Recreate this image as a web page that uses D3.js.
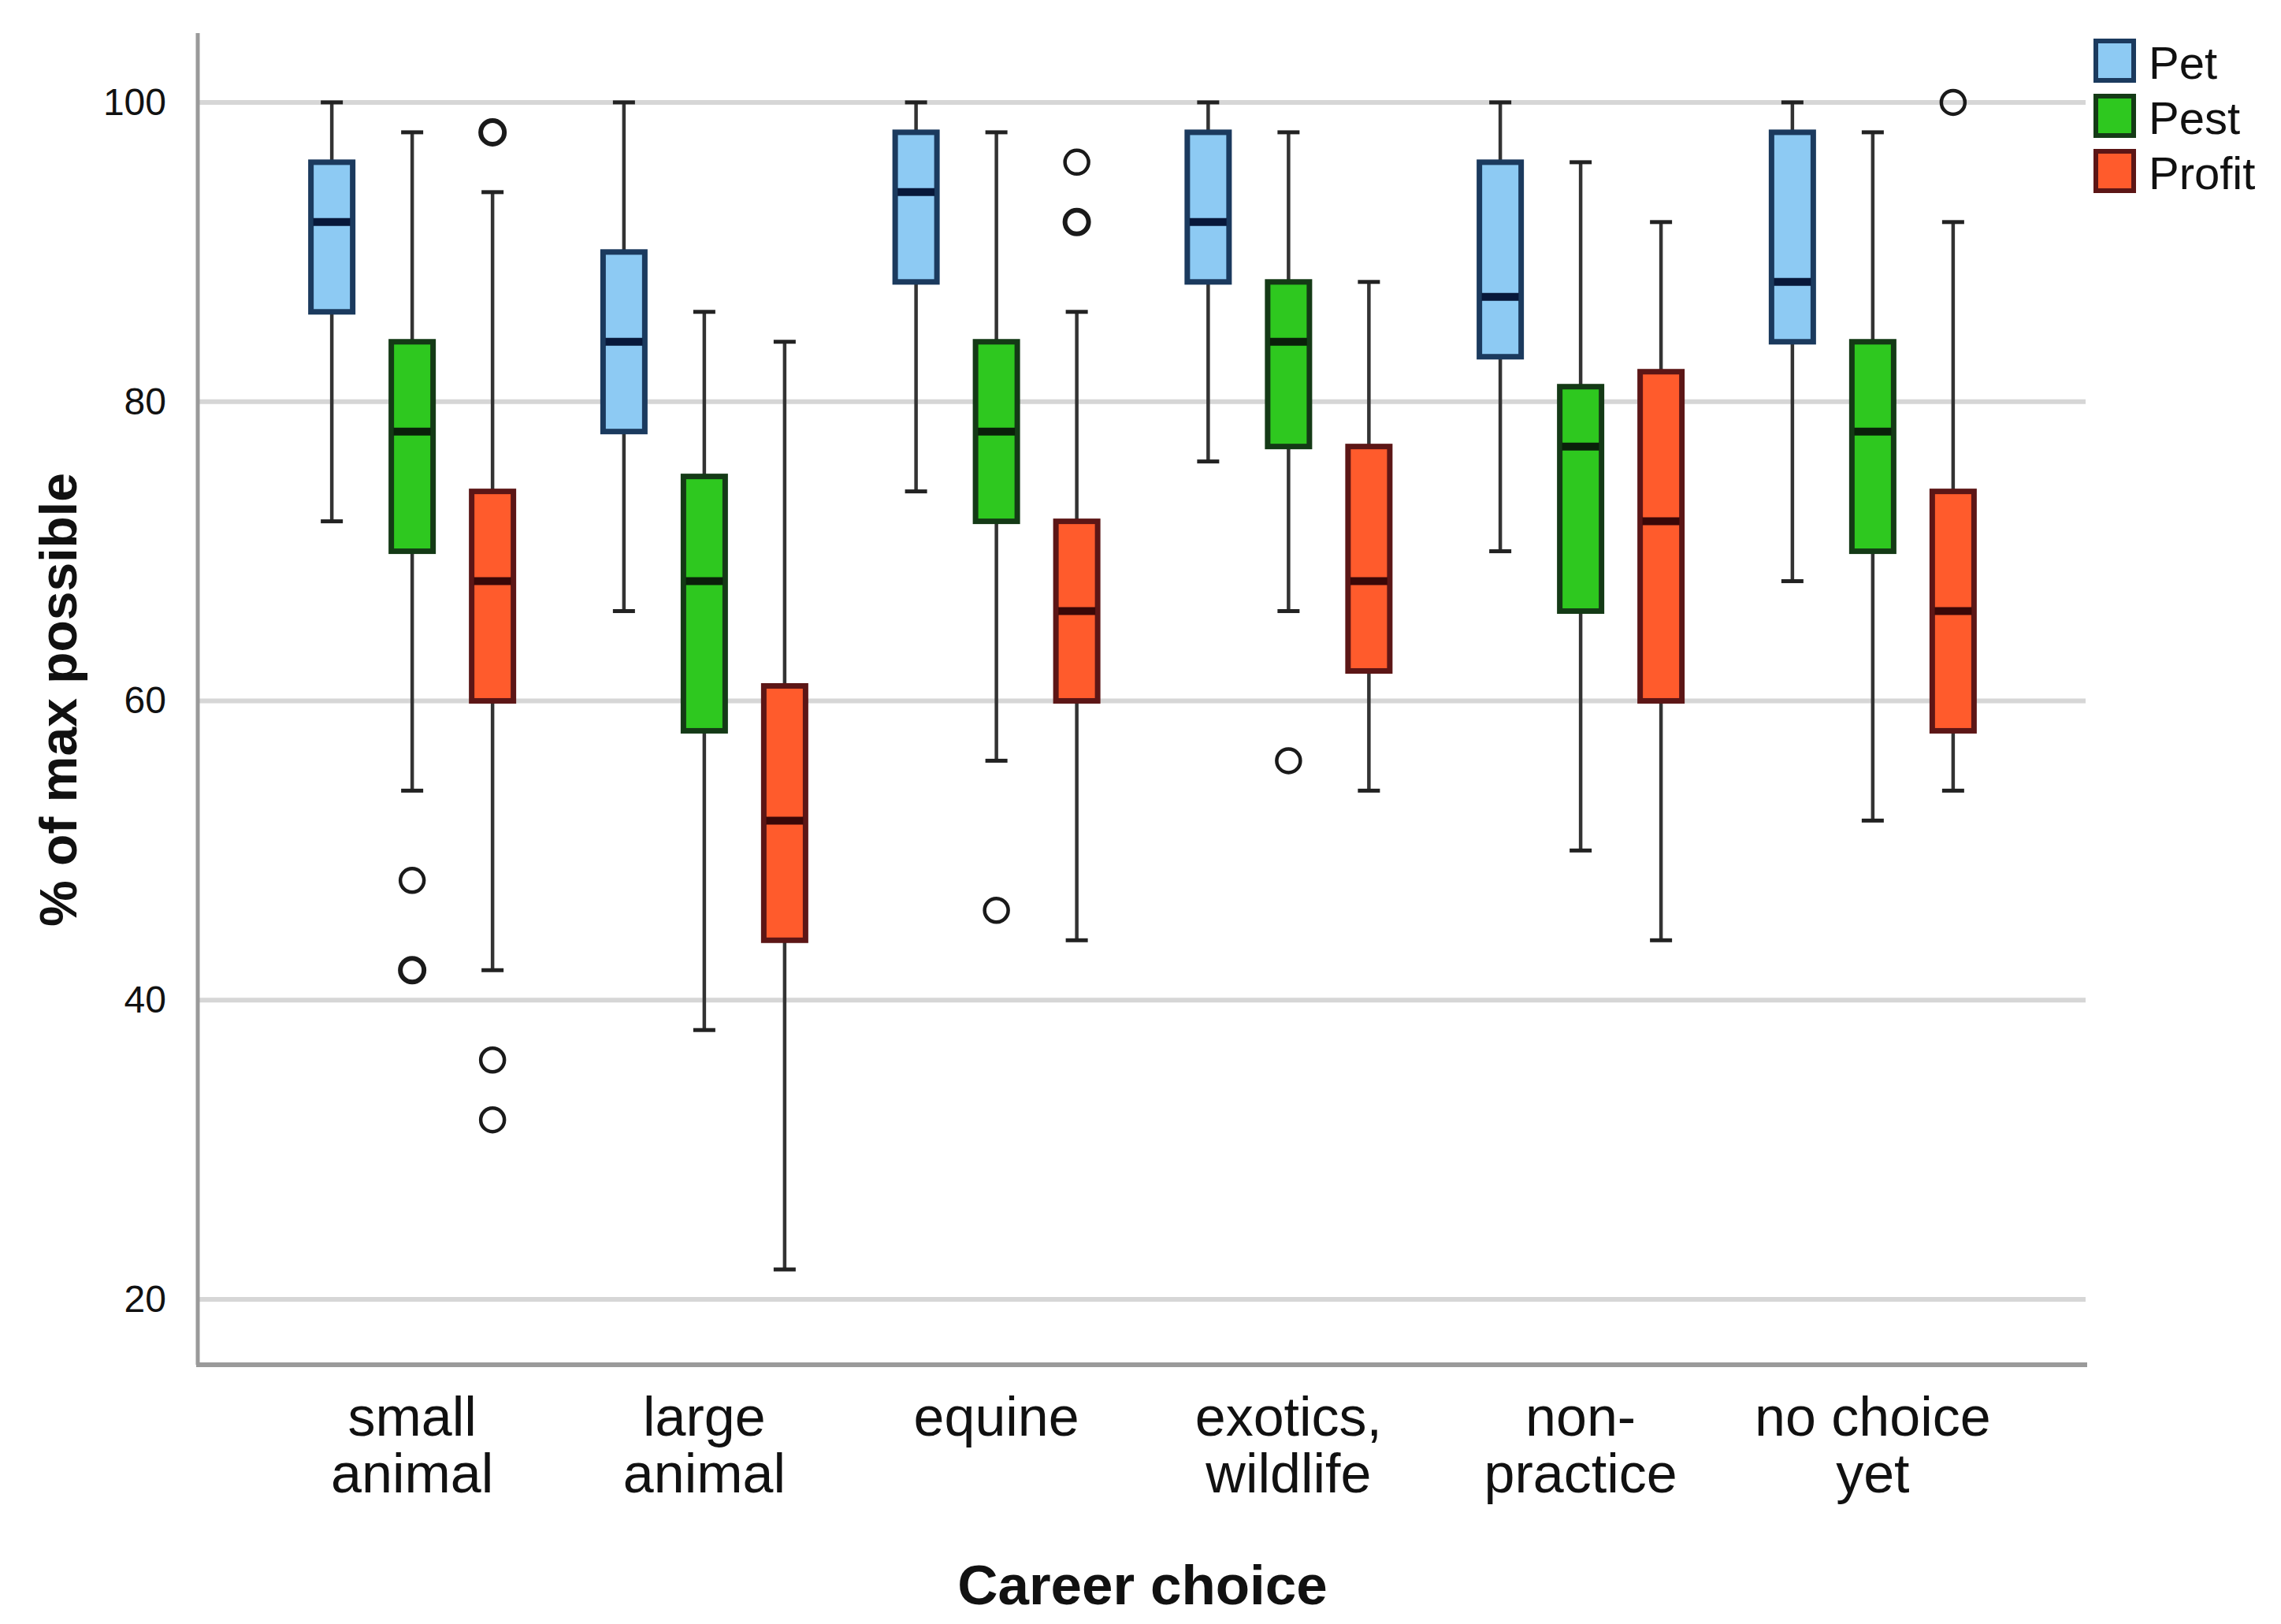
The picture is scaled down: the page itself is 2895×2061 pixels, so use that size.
<!DOCTYPE html>
<html>
<head>
<meta charset="utf-8">
<script src="https://cdn.jsdelivr.net/npm/d3@7"></script>
<style>
  body { margin: 0; background: #fff; }
  text { font-family: "Liberation Sans", Arial, sans-serif; fill: #111; }
</style>
</head>
<body>
<script>
// categories and series
var categories = ["small animal", "large animal", "equine", "exotics, wildlife", "non-practice", "no choice yet"];
var categoryLines = [["small", "animal"], ["large", "animal"], ["equine"], ["exotics,", "wildlife"], ["non-", "practice"], ["no choice", "yet"]];
var series = ["Pet", "Pest", "Profit"];

// [lower whisker, Q1, median, Q3, upper whisker] per category
var petStats = [[72, 86, 92, 96, 100], [66, 78, 84, 90, 100], [74, 88, 94, 98, 100], [76, 88, 92, 98, 100], [70, 83, 87, 96, 100], [68, 84, 88, 98, 100]];
var pestStats = [[54, 70, 78, 84, 98], [38, 58, 68, 75, 86], [56, 72, 78, 84, 98], [66, 77, 84, 88, 98], [50, 66, 77, 81, 96], [52, 70, 78, 84, 98]];
var profitStats = [[42, 60, 68, 74, 94], [22, 44, 52, 61, 84], [44, 60, 66, 72, 86], [54, 62, 68, 77, 88], [44, 60, 72, 82, 92], [54, 58, 66, 74, 92]];

// outliers per category (repeated values are drawn heavier)
var petOutliers = [[], [], [], [], [], []];
var pestOutliers = [[48, 42, 42], [], [46], [56], [], []];
var profitOutliers = [[98, 98, 36, 32], [], [96, 92, 92], [], [], [100]];

var yTicks = [20, 40, 60, 80, 100];

var fills = ["#8dcaf3", "#2ec81f", "#ff5b2c"];
var strokes = ["#1b3a5e", "#143a16", "#5c1616"];
var medianColors = ["#08183a", "#0a200a", "#3a0808"];

var width = 2895, height = 2061;
var plot = { left: 251, right: 2649, top: 42, bottom: 1732 };

var svg = d3.select("body").append("svg")
    .attr("width", width)
    .attr("height", height);

var x = d3.scalePoint()
    .domain(categories)
    .range([plot.left, plot.right])
    .padding(0.734);

var xSeries = d3.scaleBand()
    .domain(series)
    .range([-153, 153]);

var y = d3.scaleLinear()
    .domain([15.63, 104.63])
    .range([plot.bottom, plot.top]);

// gridlines
svg.append("g").selectAll("line")
    .data(yTicks)
    .enter().append("line")
    .attr("x1", plot.left)
    .attr("x2", plot.right - 2)
    .attr("y1", function(d) { return y(d); })
    .attr("y2", function(d) { return y(d); })
    .attr("stroke", "#d6d6d6")
    .attr("stroke-width", 6);

// y axis
var yAxis = svg.append("g")
    .attr("transform", "translate(" + plot.left + ",0)")
    .call(d3.axisLeft(y).tickValues(yTicks).tickSize(0).tickPadding(40));
yAxis.select(".domain").remove();
yAxis.selectAll("text")
    .attr("font-size", 48)
    .attr("font-family", "Liberation Sans, Arial, sans-serif")
    .attr("fill", "#222");

// axis lines
svg.append("line")
    .attr("x1", plot.left).attr("x2", plot.left)
    .attr("y1", plot.top).attr("y2", plot.bottom)
    .attr("stroke", "#9a9a9a").attr("stroke-width", 5);
svg.append("line")
    .attr("x1", plot.left - 2).attr("x2", plot.right)
    .attr("y1", plot.bottom).attr("y2", plot.bottom)
    .attr("stroke", "#9a9a9a").attr("stroke-width", 6);

var allStats = [petStats, pestStats, profitStats];
var allOutliers = [petOutliers, pestOutliers, profitOutliers];

var boxes = [];
series.forEach(function(s, si) {
    categories.forEach(function(c, ci) {
        var st = allStats[si][ci];
        boxes.push({
            series: s, si: si, category: c,
            low: st[0], q1: st[1], median: st[2], q3: st[3], high: st[4],
            outliers: allOutliers[si][ci]
        });
    });
});

var boxWidth = 53, capWidth = 28;

function cx(d) { return x(d.category) + xSeries(d.series) + xSeries.bandwidth() / 2; }

var g = svg.append("g").selectAll("g")
    .data(boxes)
    .enter().append("g");

// whiskers
g.append("line")
    .attr("x1", cx).attr("x2", cx)
    .attr("y1", function(d) { return y(d.high); })
    .attr("y2", function(d) { return y(d.q3); })
    .attr("stroke", "#333").attr("stroke-width", 4.5);
g.append("line")
    .attr("x1", cx).attr("x2", cx)
    .attr("y1", function(d) { return y(d.q1); })
    .attr("y2", function(d) { return y(d.low); })
    .attr("stroke", "#333").attr("stroke-width", 4.5);
g.selectAll(".cap")
    .data(function(d) { return [{ c: cx(d), v: d.high }, { c: cx(d), v: d.low }]; })
    .enter().append("line")
    .attr("class", "cap")
    .attr("x1", function(d) { return d.c - capWidth / 2; })
    .attr("x2", function(d) { return d.c + capWidth / 2; })
    .attr("y1", function(d) { return y(d.v); })
    .attr("y2", function(d) { return y(d.v); })
    .attr("stroke", "#222").attr("stroke-width", 5);

// boxes
g.append("rect")
    .attr("x", function(d) { return cx(d) - boxWidth / 2; })
    .attr("y", function(d) { return y(d.q3); })
    .attr("width", boxWidth)
    .attr("height", function(d) { return y(d.q1) - y(d.q3); })
    .attr("fill", function(d) { return fills[d.si]; })
    .attr("stroke", function(d) { return strokes[d.si]; })
    .attr("stroke-width", 7);

// medians
g.append("line")
    .attr("x1", function(d) { return cx(d) - boxWidth / 2 + 3; })
    .attr("x2", function(d) { return cx(d) + boxWidth / 2 - 3; })
    .attr("y1", function(d) { return y(d.median); })
    .attr("y2", function(d) { return y(d.median); })
    .attr("stroke", function(d) { return medianColors[d.si]; })
    .attr("stroke-width", 10);

// outliers
g.selectAll(".outlier")
    .data(function(d) {
        var counts = d3.rollups(d.outliers, function(v) { return v.length; }, function(v) { return v; });
        return counts.map(function(p) { return { c: cx(d), v: p[0], n: p[1] }; });
    })
    .enter().append("circle")
    .attr("class", "outlier")
    .attr("cx", function(d) { return d.c; })
    .attr("cy", function(d) { return y(d.v); })
    .attr("r", 15)
    .attr("fill", "none")
    .attr("stroke", "#1a1a1a")
    .attr("stroke-width", function(d) { return d.n > 1 ? 6 : 4.5; });

// category labels
var labels = svg.append("g").selectAll("text")
    .data(categories)
    .enter().append("text")
    .attr("text-anchor", "middle")
    .attr("font-size", 70)
    .attr("fill", "#111");
labels.selectAll("tspan")
    .data(function(d, i) { return categoryLines[i].map(function(t) { return { t: t, c: d }; }); })
    .enter().append("tspan")
    .attr("x", function(d) { return x(d.c); })
    .attr("y", function(d, i) { return 1822 + i * 72; })
    .text(function(d) { return d.t; });

// axis titles
svg.append("text")
    .attr("x", 1450).attr("y", 2036)
    .attr("text-anchor", "middle")
    .attr("font-size", 71)
    .attr("font-weight", "bold")
    .text("Career choice");
svg.append("text")
    .attr("transform", "translate(97,888) rotate(-90)")
    .attr("text-anchor", "middle")
    .attr("font-size", 66)
    .attr("font-weight", "bold")
    .text("% of max possible");

// legend
var legend = svg.append("g").selectAll("g")
    .data(series)
    .enter().append("g")
    .attr("transform", function(d, i) { return "translate(2660," + (52 + i * 70) + ")"; });
legend.append("rect")
    .attr("width", 48).attr("height", 50)
    .attr("fill", function(d, i) { return fills[i]; })
    .attr("stroke", function(d, i) { return strokes[i]; })
    .attr("stroke-width", 6);
legend.append("text")
    .attr("x", 67).attr("y", 48)
    .attr("font-size", 58)
    .text(function(d) { return d; });
</script>
</body>
</html>
